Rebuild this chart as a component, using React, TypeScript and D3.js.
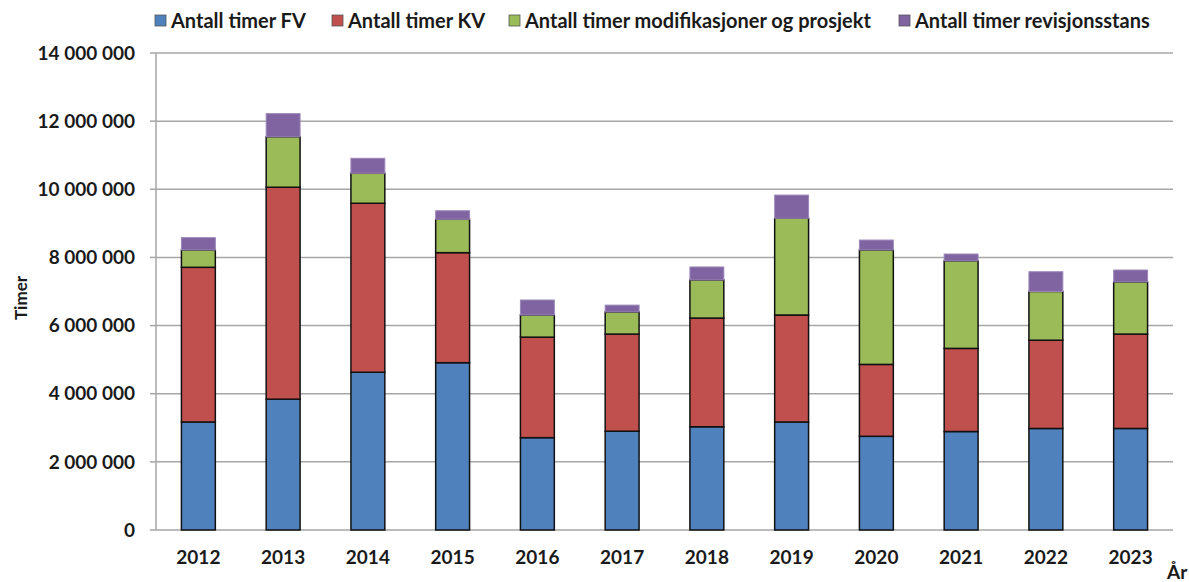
import * as d3 from "d3";

const years = ["2012", "2013", "2014", "2015", "2016", "2017", "2018", "2019", "2020", "2021", "2022", "2023"];
// values in millions of hours
const timerFV = [3.17, 3.84, 4.63, 4.91, 2.71, 2.9, 3.03, 3.17, 2.75, 2.89, 2.98, 2.98];
const timerKV = [4.54, 6.22, 4.96, 3.23, 2.95, 2.85, 3.19, 3.14, 2.11, 2.44, 2.59, 2.77];
const timerMod = [0.51, 1.48, 0.88, 0.98, 0.65, 0.65, 1.12, 2.84, 3.36, 2.57, 1.43, 1.53];
const timerRev = [0.36, 0.68, 0.44, 0.25, 0.44, 0.2, 0.38, 0.68, 0.29, 0.2, 0.58, 0.35];
const seriesNames = [
  "Antall timer FV",
  "Antall timer KV",
  "Antall timer modifikasjoner og prosjekt",
  "Antall timer revisjonsstans",
];
const colors = ["#4F81BD", "#C0504D", "#9BBB59", "#8064A2"];
const yTicks = [0, 2, 4, 6, 8, 10, 12, 14];

const width = 1189;
const height = 582;
const marginLeft = 156;
const marginRight = 16;
const marginTop = 53;
const marginBottom = 52;
const font = "Lato, 'Open Sans', sans-serif";

export default function App() {
  const x = d3.scaleBand()
    .domain(years)
    .range([marginLeft, width - marginRight])
    .paddingInner(0.6)
    .paddingOuter(0.3);

  const y = d3.scaleLinear()
    .domain([0, 14])
    .range([height - marginBottom, marginTop]);

  const rows = years.map((yr, i) => ({
    year: yr,
    s0: timerFV[i] * 1e6,
    s1: timerKV[i] * 1e6,
    s2: timerMod[i] * 1e6,
    s3: timerRev[i] * 1e6,
  }));
  const stack = d3.stack().keys(["s0", "s1", "s2", "s3"])(rows as any);

  const fmt = (v: number) => d3.format(",")(v * 1e6).replace(/,/g, " ");
  const legendX = [155, 332, 509, 899];

  return (
    <svg width={width} height={height} style={{ position: "absolute", left: 0, top: 0 }} fontFamily={font}>
      <rect width={width} height={height} fill="#fff" />
      {/* legend */}
      {seriesNames.map((name, i) => (
        <g key={name} transform={`translate(${legendX[i]},21)`}>
          <rect x={0} y={-6} width={11} height={11} fill={colors[i]} stroke="#555" strokeWidth={0.8} />
          <text x={16} y={0} dy="0.35em" fontSize={20} fontWeight="bold" fill="#1a1a1a">{name}</text>
        </g>
      ))}
      {/* gridlines */}
      {yTicks.map((t) => (
        <g key={t}>
          <line x1={marginLeft} x2={width - marginRight} y1={y(t)} y2={y(t)} stroke="#a6a6a6" strokeWidth={1.5} />
          <line x1={marginLeft - 6} x2={marginLeft} y1={y(t)} y2={y(t)} stroke="#a6a6a6" strokeWidth={1.5} />
          <text x={135} y={y(t)} dy="0.35em" textAnchor="end" fontSize={19} fontWeight="bold" fill="#1a1a1a">{fmt(t)}</text>
        </g>
      ))}
      <line x1={marginLeft} x2={marginLeft} y1={marginTop} y2={height - marginBottom} stroke="#a6a6a6" strokeWidth={1.5} />
      {/* bars */}
      {stack.map((layer, li) => (
        <g key={li}>
          {layer.map((d: any, j: number) => (
            <rect
              key={j}
              x={x(years[j])}
              width={x.bandwidth()}
              y={y(d[1] / 1e6)}
              height={y(d[0] / 1e6) - y(d[1] / 1e6)}
              fill={colors[li]}
              stroke={li === 3 ? "#9a86b8" : "#111"}
              strokeWidth={li === 3 ? 1 : 1.5}
            />
          ))}
        </g>
      ))}
      {/* x labels */}
      {years.map((yr) => (
        <text key={yr} x={(x(yr) as number) + x.bandwidth() / 2} y={557} dy="0.35em" textAnchor="middle" fontSize={19} fontWeight="bold" fill="#1a1a1a">{yr}</text>
      ))}
      <text transform="translate(21,298) rotate(-90)" textAnchor="middle" dy="0.35em" fontSize={17} fontWeight="bold" fill="#1a1a1a">Timer</text>
      <text x={1167} y={579} fontSize={19} fontWeight="bold" fill="#1a1a1a">År</text>
    </svg>
  );
}
